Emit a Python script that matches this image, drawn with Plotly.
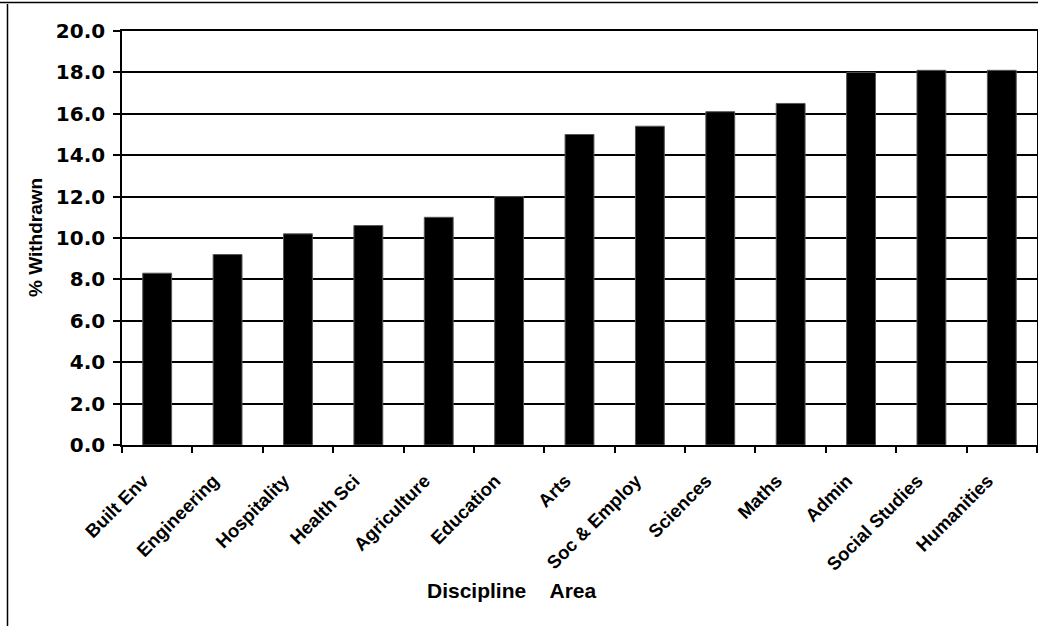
import plotly.graph_objects as go

categories = ["Built Env", "Engineering", "Hospitality", "Health Sci", "Agriculture",
              "Education", "Arts", "Soc & Employ", "Sciences", "Maths", "Admin",
              "Social Studies", "Humanities"]
withdrawn = [8.3, 9.2, 10.2, 10.6, 11.0, 12.0, 15.0, 15.4, 16.1, 16.5, 18.0, 18.1, 18.1]
y_ticks = [0, 2, 4, 6, 8, 10, 12, 14, 16, 18, 20]
y_tick_text = [f"{v:.1f}" for v in y_ticks]

W, H = 1038, 626
L, R, T, B = 122, 1, 31, 181
PW, PH = W - L - R, H - T - B


def px_x(p):
    return (p - L) / PW


def px_y(p):
    return (H - B - p) / PH


fig = go.Figure(go.Bar(
    x=categories, y=withdrawn,
    marker=dict(color="black", line=dict(color="#555555", width=1)),
    showlegend=False,
))

fig.update_layout(
    width=W, height=H,
    margin=dict(l=L, r=R, t=T, b=B, autoexpand=False),
    paper_bgcolor="white", plot_bgcolor="white",
    bargap=0.59,
    xaxis=dict(
        type="category",
        tickangle=-45,
        tickson="boundaries",
        ticks="outside", ticklen=6, tickcolor="black", tickwidth=1.5,
        showline=True, linecolor="black", linewidth=1.6, mirror=True,
        showgrid=False,
        tickfont=dict(family="Liberation Sans, Arial, sans-serif", size=18.5,
                      color="black", weight="bold"),
        ticklabelstandoff=16,
        ticklabelshift=-14,
    ),
    yaxis=dict(
        range=[0, 20],
        tickvals=y_ticks, ticktext=y_tick_text,
        ticks="outside", ticklen=7, tickcolor="black", tickwidth=1.5,
        showline=True, linecolor="black", linewidth=1.6, mirror=True,
        showgrid=True, gridcolor="black", gridwidth=1.5,
        zeroline=False,
        tickfont=dict(family="DejaVu Sans, sans-serif", size=20,
                      color="black", weight="bold"),
        ticklabelstandoff=4,
    ),
    shapes=[
        dict(type="line", xref="paper", yref="paper",
             x0=px_x(7.5), x1=px_x(7.5), y0=px_y(4), y1=px_y(626),
             line=dict(color="black", width=1.5)),
        dict(type="line", xref="paper", yref="paper",
             x0=px_x(0), x1=px_x(1038), y0=px_y(2.5), y1=px_y(2.5),
             line=dict(color="black", width=1.5)),
    ],
    annotations=[
        dict(text="% Withdrawn", xref="paper", yref="paper",
             x=px_x(35), y=px_y(238), showarrow=False, textangle=-90,
             xanchor="center", yanchor="middle",
             font=dict(family="Liberation Sans, Arial, sans-serif", size=19,
                       color="black", weight="bold")),
        dict(text="Discipline\u00a0\u00a0\u00a0\u00a0Area", xref="paper", yref="paper",
             x=px_x(512), y=px_y(590), showarrow=False,
             xanchor="center", yanchor="middle",
             font=dict(family="Liberation Sans, Arial, sans-serif", size=21,
                       color="black", weight="bold")),
    ],
)

fig.write_html("out.html")
